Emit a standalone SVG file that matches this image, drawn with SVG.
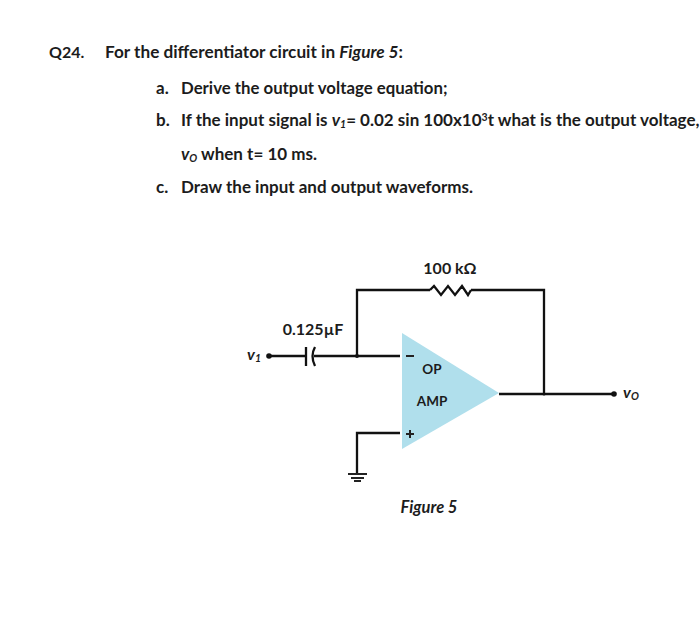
<svg xmlns="http://www.w3.org/2000/svg" width="700" height="625" viewBox="0 0 700 625">
<style>
text{font-family:Lato,Carlito,"Open Sans",sans-serif;font-weight:700;fill:#1c1c1c}
.q{font-size:17px}
.i{font-style:italic}
.s{font-size:10.5px}
.w{fill:none;stroke:#111;stroke-width:2.3}
.g{fill:none;stroke:#222;stroke-width:2}
.d{fill:#111}
</style>
<rect width="700" height="625" fill="#fff"/>
<g id="question">
<text class="q" x="49" y="58" style="font-size:16px">Q24.</text>
<text class="q" x="105" y="58" style="font-size:17.2px">For the differentiator circuit in <tspan class="i">Figure 5</tspan>:</text>
<text class="q" x="156" y="94">a.</text>
<text class="q" x="181" y="94" style="font-size:16.8px">Derive the output voltage equation;</text>
<text class="q" x="156" y="126">b.</text>
<text class="q" x="181" y="126"><tspan>If the input signal is </tspan><tspan class="i">v</tspan><tspan class="i s" dy="2">1</tspan><tspan dy="-2">= 0.02 sin 100x10</tspan><tspan class="s" dy="-5">3</tspan><tspan dy="5">t what is the output voltage,</tspan></text>
<text class="q" x="181" y="160"><tspan class="i">v</tspan><tspan class="i s" dy="2">O</tspan><tspan dy="-2"> when t= 10 ms.</tspan></text>
<text class="q" x="156" y="193">c.</text>
<text class="q" x="181" y="193">Draw the input and output waveforms.</text>
</g>
<g id="opamp">
<polygon points="402,333 499,393 402,449" fill="#b0dfec"/>
<text x="432" y="374" font-size="13.5" text-anchor="middle">OP</text>
<text x="432" y="406" font-size="13.5" text-anchor="middle">AMP</text>
<path class="g" d="M406 356H414M406 434H414M410 430V438"/>
</g>
<g id="connectors">
<path class="w" d="M269 356H306M314 356H400M357 356V290H430M471 290H544V394M499 394H614M400 433H357V474"/>
</g>
<g id="capacitor">
<path class="w" d="M306 347V366"/>
<path class="w" d="M315 347Q310 356 315 366"/>
<text x="313" y="335" font-size="16" text-anchor="middle">0.125µF</text>
</g>
<g id="resistor">
<path class="w" d="M430 290L434 286L441 295L448 286L455 295L462 286L468 295L471 290"/>
<text x="450" y="274" font-size="16" text-anchor="middle">100 kΩ</text>
</g>
<g id="ground">
<path class="g" d="M348 474H367M351 478H364M354 481H361"/>
</g>
<g id="terminals">
<circle class="d" cx="269" cy="356" r="2.8"/>
<circle class="d" cx="357" cy="356" r="2"/>
<circle class="d" cx="544" cy="394" r="1.5"/>
<circle class="d" cx="614" cy="394" r="2.8"/>
<text class="i" x="247" y="360" font-size="16">v<tspan class="s" dy="2">1</tspan></text>
<text class="i" x="623" y="398" font-size="16">v<tspan class="s" dy="2">O</tspan></text>
</g>
<g id="caption">
<text class="i" x="429" y="513" font-size="16.5" text-anchor="middle">Figure 5</text>
</g>
</svg>
